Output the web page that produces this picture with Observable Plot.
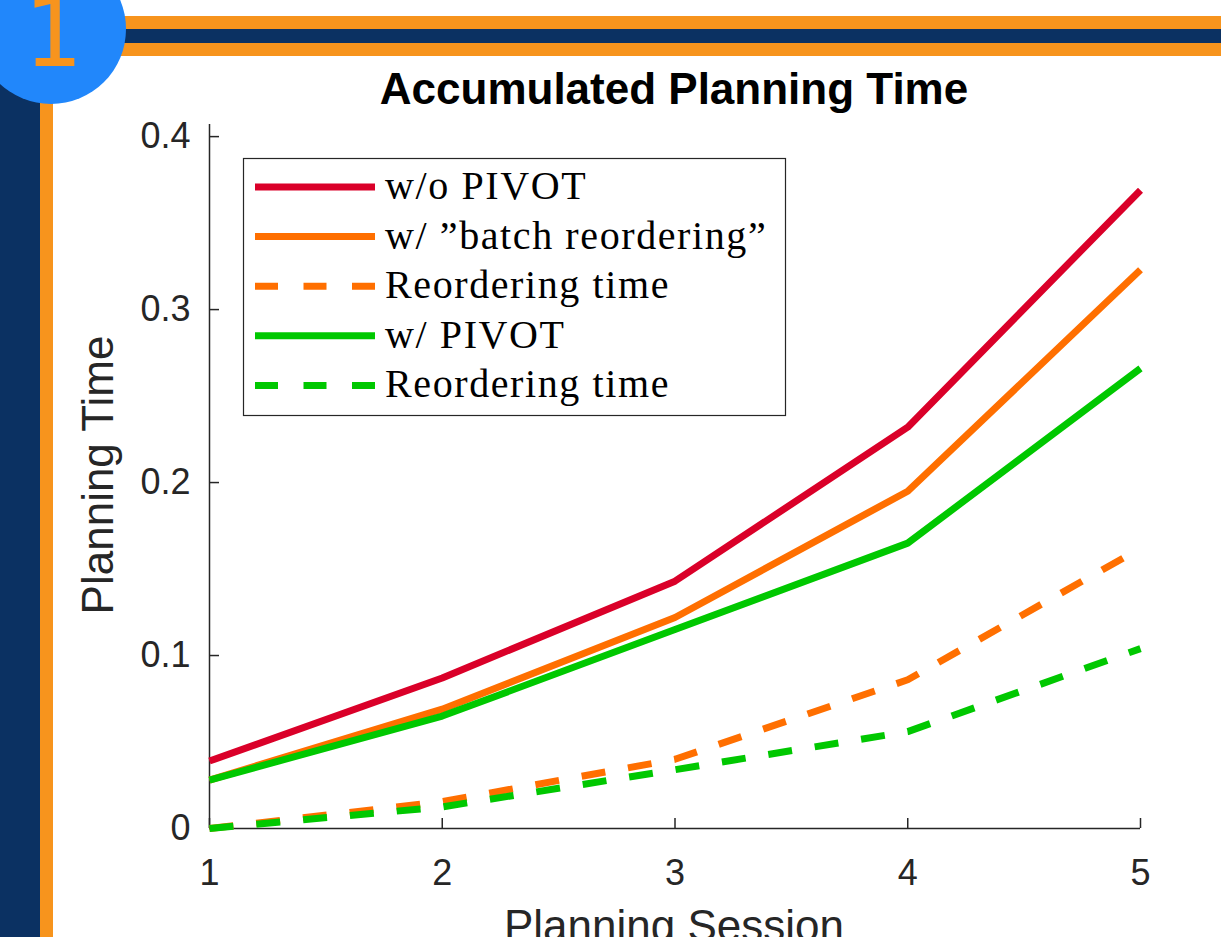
<!DOCTYPE html>
<html><head><meta charset="utf-8">
<script src="https://cdn.jsdelivr.net/npm/d3@7"></script>
<script src="https://cdn.jsdelivr.net/npm/@observablehq/plot@0.6"></script>
<style>
body{margin:0;background:#fff;}
#wrap{position:relative;width:1221px;height:937px;overflow:hidden;background:#fff;}
#wrap > svg{position:absolute;left:0;top:0;}
</style></head><body><div id="wrap"></div>
<script>
// ---- data ----
const sessions = [1, 2, 3, 4, 5];
const woPivot = [0.039, 0.087, 0.143, 0.232, 0.369];
const batchReorder = [0.028, 0.069, 0.122, 0.195, 0.323];
const batchReorderTime = [0, 0.0155, 0.040, 0.086, 0.162];
const wPivot = [0.028, 0.065, 0.115, 0.165, 0.266];
const pivotReorderTime = [0, 0.0125, 0.034, 0.056, 0.104];
const seriesNames = ["w/o PIVOT", "w/ \u201Dbatch reordering\u201D", "Reordering time", "w/ PIVOT", "Reordering time"];
const seriesValues = [woPivot, batchReorder, batchReorderTime, wPivot, pivotReorderTime];
const seriesColors = ["#DA0029", "#FF6F00", "#FF6F00", "#00C800", "#00C800"];
const seriesDashed = [false, false, true, false, true];
const yTicks = [0, 0.1, 0.2, 0.3, 0.4];
const yTickLabels = ["0", "0.1", "0.2", "0.3", "0.4"];
const xTickLabels = ["1", "2", "3", "4", "5"];
const title = "Accumulated Planning Time";
const xLabel = "Planning Session";
const yLabel = "Planning Time";
const badge = "1";

const rows = seriesValues.flatMap((vals, i) => sessions.map((s, j) => ({series: i, session: s, time: vals[j]})));

const W = 1221, H = 937;
const AX = "#262626";
const DASH = "24,23";
const wrap = document.getElementById("wrap");

// ---- background decoration ----
const bg = d3.create("svg").attr("width", W).attr("height", H);
bg.append("rect").attr("x", 100).attr("y", 16).attr("width", W).attr("height", 40).attr("fill", "#F7941D");
bg.append("rect").attr("x", 100).attr("y", 29).attr("width", W).attr("height", 14).attr("fill", "#0B3162");
bg.append("rect").attr("x", 0).attr("y", 20).attr("width", 53).attr("height", H).attr("fill", "#F7941D");
bg.append("rect").attr("x", 0).attr("y", 20).attr("width", 40).attr("height", H).attr("fill", "#0B3162");
wrap.appendChild(bg.node());

// ---- chart ----
const marks = [
  Plot.ruleX([1], {stroke: AX, strokeWidth: 1.5}),
  Plot.ruleY([0], {stroke: AX, strokeWidth: 1.5}),
  Plot.axisX({ticks: sessions, tickSize: 10, dy: -10, tickFormat: () => "", label: null, strokeWidth: 1.5}),
  Plot.axisX({ticks: sessions, tickSize: 0, tickPadding: 31, tickFormat: d => xTickLabels[sessions.indexOf(d)], label: null, fontSize: 36, fill: AX}),
  Plot.axisY({ticks: yTicks, tickSize: 10, dx: 10, tickFormat: () => "", label: null, strokeWidth: 1.5}),
  Plot.axisY({ticks: yTicks, tickSize: 0, tickPadding: 19, tickFormat: d => yTickLabels[yTicks.indexOf(d)], label: null, fontSize: 36, fill: AX})
];
seriesValues.forEach((_, i) => {
  marks.push(Plot.line(rows.filter(d => d.series === i), {
    x: "session", y: "time", stroke: seriesColors[i], strokeWidth: 7,
    strokeDasharray: seriesDashed[i] ? DASH : null, strokeLinejoin: "round", strokeLinecap: "butt"
  }));
});

const chart = Plot.plot({
  width: W, height: H,
  marginLeft: 209, marginRight: 81, marginTop: 124, marginBottom: 109,
  x: {domain: [1, 5]},
  y: {domain: [0, 0.407]},
  style: {fontFamily: "'Liberation Sans', Arial, sans-serif", fontSize: "36px", color: AX, background: "transparent", overflow: "visible"},
  marks
});
wrap.appendChild(chart);

// ---- overlay: badge, title, labels, legend ----
const ov = d3.create("svg").attr("width", W).attr("height", H).style("pointer-events", "none");
ov.append("circle").attr("cx", 51).attr("cy", 29).attr("r", 75).attr("fill", "#2187FB");
ov.append("text").attr("x", 52).attr("y", 66).attr("text-anchor", "middle")
  .attr("font-family", "'DejaVu Sans Mono', monospace").attr("font-size", 96).attr("fill", "#F7941D").text(badge);
ov.append("text").attr("x", 674).attr("y", 104).attr("text-anchor", "middle")
  .attr("font-family", "'Liberation Sans', Arial, sans-serif").attr("font-weight", "bold").attr("font-size", 44).attr("fill", "#000").text(title);
ov.append("text").attr("x", 674).attr("y", 941).attr("text-anchor", "middle")
  .attr("font-family", "'Liberation Sans', Arial, sans-serif").attr("font-size", 44).attr("fill", AX).text(xLabel);
ov.append("text").attr("transform", "translate(113,475) rotate(-90)").attr("text-anchor", "middle")
  .attr("font-family", "'Liberation Sans', Arial, sans-serif").attr("font-size", 44).attr("fill", AX).text(yLabel);

const lg = ov.append("g");
lg.append("rect").attr("x", 243.5).attr("y", 158.5).attr("width", 542).attr("height", 257).attr("fill", "#fff").attr("stroke", AX).attr("stroke-width", 1.2);
seriesNames.forEach((name, i) => {
  const cy = 187 + i * 49.6;
  lg.append("line").attr("x1", 255).attr("x2", 375).attr("y1", cy).attr("y2", cy)
    .attr("stroke", seriesColors[i]).attr("stroke-width", 7)
    .attr("stroke-dasharray", seriesDashed[i] ? "23,25.5" : null);
  lg.append("text").attr("x", 385).attr("y", cy + 12)
    .attr("font-family", "'Liberation Serif', 'Times New Roman', serif").attr("font-size", 40)
    .attr("letter-spacing", "1.6px").attr("fill", "#000").text(name);
});
wrap.appendChild(ov.node());
</script></body></html>
